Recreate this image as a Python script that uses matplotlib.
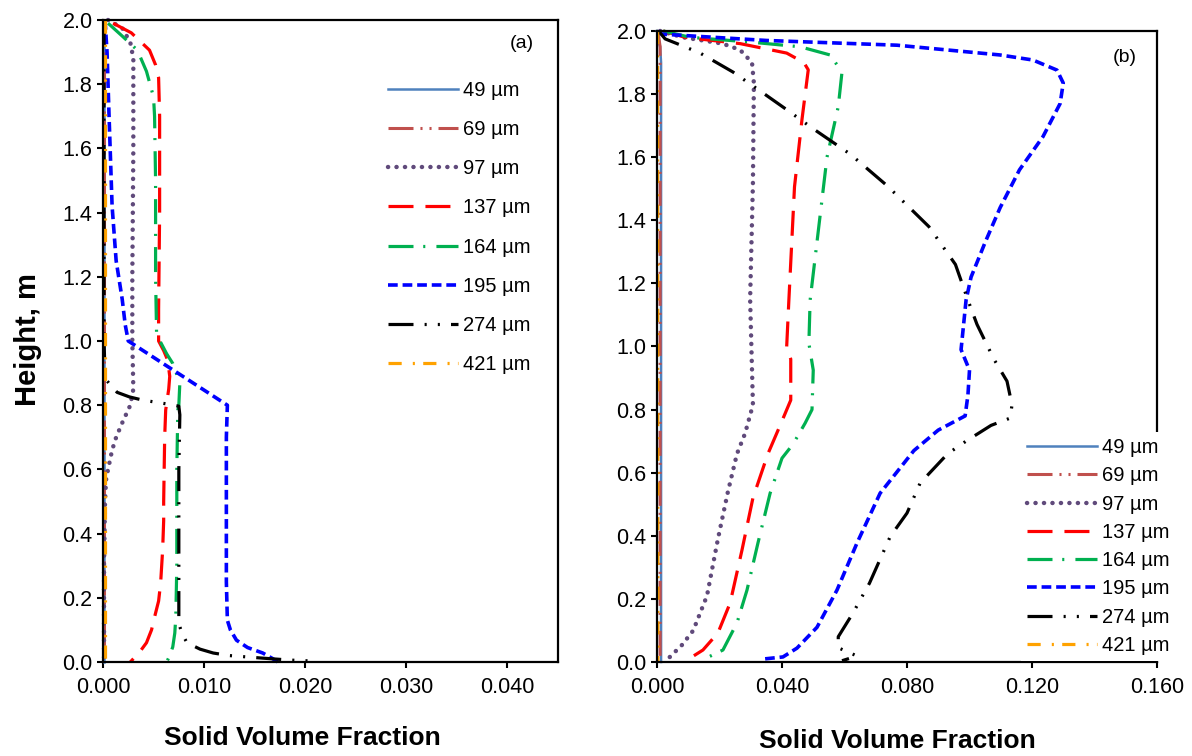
import matplotlib
matplotlib.use("Agg")
import matplotlib.pyplot as plt
from matplotlib.ticker import MultipleLocator, FormatStrFormatter

plt.rcParams['font.family'] = ['Liberation Sans', 'DejaVu Sans']
plt.rcParams['lines.scale_dashes'] = False

labels = ['49 µm', '69 µm', '97 µm', '137 µm', '164 µm', '195 µm', '274 µm', '421 µm']
colors = ['#4F81BD', '#C0504D', '#604A7B', '#FF0000', '#00B050', '#0000FF', '#000000', '#FFA200']
styles = ['-', (0, (18, 5, 1.5, 5, 1.5, 5)), (0, (0.1, 6.0)), (0, (18, 8.6)),
          (0, (18, 7, 1.5, 8)), (0, (7, 3.5)), (0, (18, 8, 1.5, 8, 1.5, 8)), (0, (9.5, 8, 1.5, 6))]
widths = [1.8, 2.2, 3.2, 2.3, 2.3, 2.6, 2.3, 2.3]
caps = ['butt', 'butt', 'round', 'butt', 'butt', 'butt', 'butt', 'butt']

# ---- panel (a): height (m) and solid volume fraction ----
a_h49 = [2.0, 0.0]
a_v49 = [0.0001, 0.0001]
a_h69 = [2.0, 0.0]
a_v69 = [0.0001, 0.0001]
a_h97 = [2.0, 1.975, 1.93, 1.88, 1.6, 1.2, 1.0, 0.85, 0.8, 0.745, 0.70, 0.66, 0.6, 0.567, 0.5, 0.3, 0.0]
a_v97 = [0.0005, 0.0019, 0.0027, 0.003, 0.003, 0.0029, 0.0029, 0.003, 0.0027, 0.0019, 0.0013,
         0.0009, 0.0005, 0.0003, 0.0002, 0.0001, 0.0001]
a_h137 = [1.99, 1.96, 1.906, 1.86, 1.82, 1.7, 1.4, 1.1, 1.0, 0.97, 0.94, 0.89, 0.85, 0.785, 0.7,
          0.5, 0.44, 0.35, 0.246, 0.19, 0.14, 0.1, 0.06, 0.03, 0.0]
a_v137 = [0.001, 0.0028, 0.0046, 0.0052, 0.0055, 0.0056, 0.0056, 0.0055, 0.0055, 0.006, 0.0064,
          0.0066, 0.0065, 0.0062, 0.0061, 0.006, 0.006, 0.0059, 0.0057, 0.0055, 0.0051, 0.0048,
          0.0043, 0.0036, 0.0027]
a_h164 = [1.99, 1.95, 1.906, 1.84, 1.76, 1.70, 1.5, 1.2, 1.02, 0.96, 0.93, 0.87, 0.80, 0.785, 0.6,
          0.3, 0.14, 0.09, 0.047, 0.02, 0.0]
a_v164 = [0.0005, 0.0019, 0.0034, 0.0043, 0.005, 0.0051, 0.0052, 0.0052, 0.0053, 0.0063, 0.0069,
          0.0076, 0.0075, 0.0074, 0.0073, 0.0073, 0.0072, 0.0071, 0.0069, 0.0066, 0.0063]
a_h195 = [2.0, 1.9, 1.7, 1.42, 1.25, 1.13, 1.05, 1.0, 0.80, 0.7, 0.4, 0.25, 0.13, 0.1, 0.068,
          0.045, 0.028, 0.012, 0.0]
a_v195 = [0.0002, 0.0004, 0.0006, 0.0009, 0.0013, 0.0019, 0.0022, 0.0025, 0.0123, 0.0122, 0.0122,
          0.0122, 0.0123, 0.0126, 0.0132, 0.0143, 0.0158, 0.0167, 0.0173]
a_h274 = [2.0, 1.5, 1.0, 0.9, 0.88, 0.86, 0.84, 0.826, 0.816, 0.804, 0.797, 0.77, 0.6, 0.3, 0.12,
          0.09, 0.06, 0.04, 0.028, 0.02, 0.012, 0.006, 0.003]
a_v274 = [0.0001, 0.0001, 0.0001, 0.0002, 0.0003, 0.0008, 0.0014, 0.0026, 0.0039, 0.0063, 0.0075,
          0.0076, 0.0075, 0.0075, 0.0075, 0.0078, 0.0083, 0.0096, 0.0109, 0.0125, 0.0158, 0.0185,
          0.0208]
a_h421 = [2.0, 0.0]
a_v421 = [0.0002, 0.0002]

# ---- panel (b) ----
b_h49 = [2.0, 1.95, 1.9, 0.0]
b_v49 = [0.0, 0.001, 0.0013, 0.0013]
b_h69 = [2.0, 1.95, 0.0]
b_v69 = [0.0003, 0.001, 0.001]
b_h97 = [2.0, 1.98, 1.96, 1.94, 1.90, 1.835, 1.52, 1.15, 0.815, 0.725, 0.66, 0.54, 0.39, 0.21,
         0.10, 0.054, 0.01, 0.0]
b_v97 = [0.001, 0.0083, 0.021, 0.0266, 0.0304, 0.031, 0.0307, 0.0298, 0.0307, 0.0282, 0.0256,
         0.0227, 0.0195, 0.016, 0.0116, 0.008, 0.0035, 0.003]
b_h137 = [2.0, 1.98, 1.96, 1.93, 1.90, 1.877, 1.72, 1.506, 1.147, 1.0, 0.96, 0.83, 0.75, 0.66,
          0.52, 0.355, 0.187, 0.092, 0.038, 0.006]
b_v137 = [0.002, 0.009, 0.0266, 0.0415, 0.047, 0.0484, 0.0464, 0.044, 0.0422, 0.0415, 0.0428,
          0.0428, 0.0394, 0.0355, 0.0307, 0.0272, 0.0234, 0.0195, 0.0147, 0.0096]
b_h164 = [2.0, 1.98, 1.965, 1.95, 1.924, 1.87, 1.76, 1.60, 1.147, 1.01, 0.925, 0.80, 0.757, 0.69,
          0.646, 0.535, 0.377, 0.228, 0.124, 0.038, 0.006]
b_v164 = [0.002, 0.0106, 0.0298, 0.0458, 0.0554, 0.0592, 0.058, 0.0544, 0.049, 0.0486, 0.05,
          0.0496, 0.0474, 0.0435, 0.04, 0.0362, 0.0323, 0.0288, 0.0256, 0.0211, 0.0144]
b_h195 = [2.0, 1.99, 1.97, 1.955, 1.924, 1.908, 1.876, 1.835, 1.77, 1.665, 1.56, 1.44, 1.33, 1.22,
          1.147, 0.99, 0.925, 0.846, 0.78, 0.735, 0.67, 0.535, 0.377, 0.228, 0.11, 0.044, 0.016,
          0.01]
b_v195 = [0.0005, 0.0016, 0.035, 0.0768, 0.1098, 0.1203, 0.128, 0.130, 0.129, 0.1235, 0.116,
          0.1098, 0.105, 0.1005, 0.0989, 0.0973, 0.100, 0.0995, 0.0986, 0.09, 0.0822, 0.0714,
          0.064, 0.0576, 0.0512, 0.0448, 0.0403, 0.0346]
b_h274 = [2.0, 1.975, 1.96, 1.93, 1.87, 1.81, 1.75, 1.69, 1.61, 1.51, 1.38, 1.26, 1.147, 1.07,
          0.96, 0.89, 0.815, 0.773, 0.75, 0.70, 0.66, 0.567, 0.472, 0.397, 0.25, 0.155, 0.08,
          0.045, 0.03, 0.019, 0.004]
b_v274 = [0.0005, 0.0026, 0.0064, 0.0138, 0.0243, 0.033, 0.0416, 0.050, 0.0618, 0.0736, 0.087,
          0.0955, 0.0995, 0.1024, 0.1078, 0.112, 0.1136, 0.113, 0.1069, 0.0989, 0.093, 0.0842,
          0.08, 0.0746, 0.068, 0.0627, 0.058, 0.058, 0.0615, 0.064, 0.0592]
b_h421 = [2.0, 0.0]
b_v421 = [0.0002, 0.0003]

a_series = [(a_v49, a_h49), (a_v69, a_h69), (a_v97, a_h97), (a_v137, a_h137),
            (a_v164, a_h164), (a_v195, a_h195), (a_v274, a_h274), (a_v421, a_h421)]
b_series = [(b_v49, b_h49), (b_v69, b_h69), (b_v97, b_h97), (b_v137, b_h137),
            (b_v164, b_h164), (b_v195, b_h195), (b_v274, b_h274), (b_v421, b_h421)]

fig = plt.figure(figsize=(11.92, 7.56), dpi=100)
W, H = 1192, 756
ax_a = fig.add_axes([103 / W, 94 / H, 455 / W, 642 / H])
ax_b = fig.add_axes([657 / W, 94 / H, 500 / W, 631 / H])


def draw(ax, series, xmax, xstep):
    for (v, h), lab, c, ls, lw, cap in zip(series, labels, colors, styles, widths, caps):
        ax.plot(v, h, color=c, linestyle=ls, lw=lw, label=lab, dash_capstyle=cap,
                clip_on=False)
    ax.set_xlim(0, xmax)
    ax.set_ylim(0, 2.0)
    ax.xaxis.set_major_locator(MultipleLocator(xstep))
    ax.xaxis.set_major_formatter(FormatStrFormatter('%.3f'))
    ax.yaxis.set_major_locator(MultipleLocator(0.2))
    ax.yaxis.set_major_formatter(FormatStrFormatter('%.1f'))
    for s in ax.spines.values():
        s.set_linewidth(1.6)
    ax.tick_params(direction='out', length=4.5, width=1.5, labelsize=15.5)
    ax.tick_params(axis='x', pad=6)
    ax.tick_params(axis='y', pad=3)


draw(ax_a, a_series, 0.045, 0.010)
draw(ax_b, b_series, 0.160, 0.040)

fs = 14.5
ax_a.legend(loc='upper left', bbox_to_anchor=(388 / W, 1 - 81 / H), bbox_transform=fig.transFigure,
            frameon=False, fontsize=fs, handlelength=3.48, handletextpad=0.25,
            labelspacing=1.0, borderpad=0, borderaxespad=0)
leg = ax_b.legend(loc='upper left', bbox_to_anchor=(1021 / W, 1 - 432 / H),
                  bbox_transform=fig.transFigure, frameon=True, fancybox=False,
                  facecolor='white', edgecolor='none', framealpha=1, fontsize=fs,
                  handlelength=3.48, handletextpad=0.25, labelspacing=0.46,
                  borderpad=0.3, borderaxespad=0)

fig.text(522 / W, 1 - 43 / H, '(a)', fontsize=14, ha='center', va='center')
fig.text(1125 / W, 1 - 57 / H, '(b)', fontsize=14, ha='center', va='center')
fig.text(302 / W, 1 - 738 / H, 'Solid Volume Fraction', fontsize=19, fontweight='bold',
         ha='center', va='center')
fig.text(897 / W, 1 - 741 / H, 'Solid Volume Fraction', fontsize=19, fontweight='bold',
         ha='center', va='center')
fig.text(28 / W, 1 - 340 / H, 'Height, m', fontsize=21, fontweight='bold', rotation=90,
         ha='center', va='center')

fig.savefig('out.png', dpi=100)
